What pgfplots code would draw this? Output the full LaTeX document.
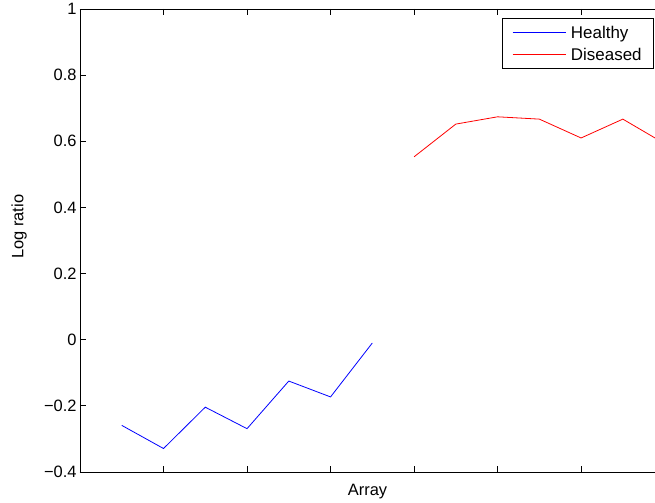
\documentclass[border=0pt]{standalone}
\usepackage{fontspec}
\setmainfont{Liberation Sans}
\usepackage{pgfplots}
\pgfplotsset{compat=1.18}
\definecolor{mlblue}{RGB}{0,0,255}
\definecolor{mlred}{RGB}{255,0,0}
\begin{document}
\begin{tikzpicture}
\begin{axis}[
  name=ax,
  scale only axis,
  width=575bp, height=463bp,
  xmin=0, xmax=13.77,
  ymin=-0.4, ymax=1,
  axis x line=box,
  axis y line=left,
  y axis line style={-},
  x axis line style={-},
  axis line style={line width=0.8bp},
  tick align=inside,
  major tick length=6bp,
  tick style={line width=0.8bp, black},
  xtick={2,4,6,8,10,12},
  xticklabels={},
  ytick={-0.4,-0.2,0,0.2,0.4,0.6,0.8,1},
  yticklabels={−0.4,−0.2,0,0.2,0.4,0.6,0.8,1},
  yticklabel style={font=\fontsize{16.5}{19}\selectfont},
  xlabel={Array},
  ylabel={Log ratio},
  label style={font=\fontsize{16.5}{19}\selectfont},
  xlabel style={at={(axis description cs:0.5,-0.043)}, anchor=center},
  ylabel style={at={(axis description cs:-0.106,0.53)}, anchor=center},
  legend style={at={(axis description cs:1,1)}, anchor=north east, xshift=-1bp, yshift=-9bp,
    font=\fontsize{17}{19}\selectfont, draw=black, line width=0.8bp,
    inner xsep=10bp, inner ysep=4.5bp,
    nodes={inner sep=2bp, text height=13.5bp, text depth=2bp},
    row sep=2.5bp, column sep=3bp, cells={anchor=west}},
  legend image code/.code={\draw[#1, line width=0.8bp] (0bp,0bp) -- (53bp,0bp);},
  clip=true,
]
\addplot[mlblue, line width=0.8bp] coordinates {
  (1,-0.259) (2,-0.329) (3,-0.204) (4,-0.269) (5,-0.125) (6,-0.173) (7,-0.010)
};
\addlegendentry{Healthy}
\addplot[mlred, line width=0.8bp] coordinates {
  (8,0.553) (9,0.652) (10,0.674) (11,0.667) (12,0.610) (13,0.667) (14,0.593)
};
\addlegendentry{Diseased}
\end{axis}
\pgfresetboundingbox
\path ([xshift=-80bp,yshift=-31bp]ax.south west) rectangle ([yshift=9bp]ax.north east);
\end{tikzpicture}
\end{document}
